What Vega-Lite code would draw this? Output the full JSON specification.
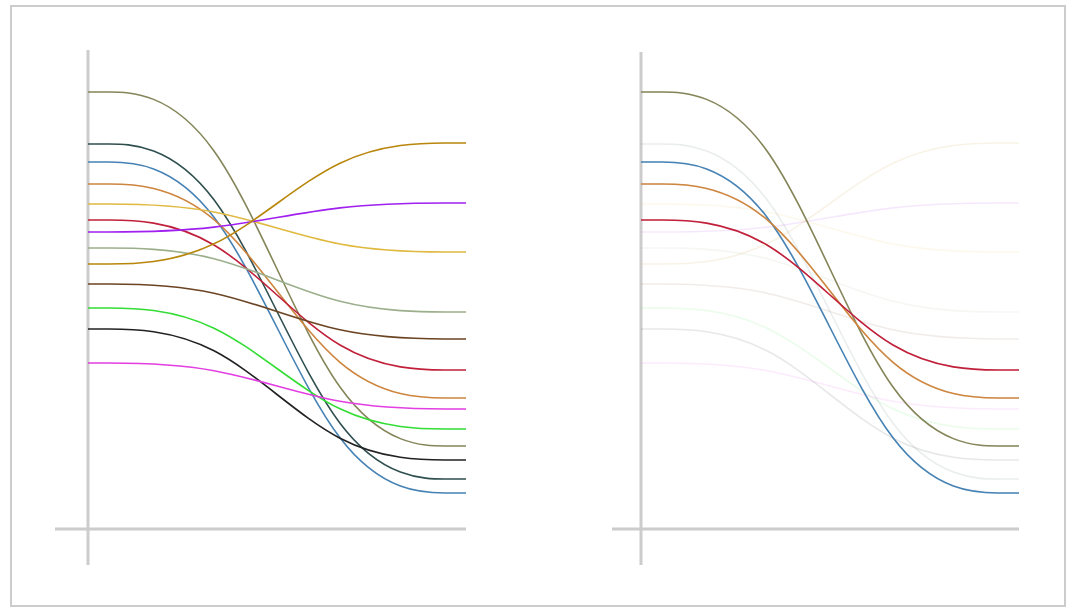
{
  "$schema": "https://vega.github.io/schema/vega-lite/v6.json",
  "autosize": {"type": "none"},
  "width": 1054,
  "height": 600,
  "padding": {"left": 11, "top": 6, "right": 8, "bottom": 5},
  "background": "white",
  "config": {"view": {"stroke": "#cccccc", "strokeWidth": 2}},
  "datasets": {
    "lines": [
      {"series": "A", "start": 87.4, "end": 16.6},
      {"series": "B", "start": 77.0, "end": 10.0},
      {"series": "C", "start": 73.4, "end": 7.2},
      {"series": "D", "start": 69.0, "end": 26.2},
      {"series": "E", "start": 65.0, "end": 55.4},
      {"series": "F", "start": 61.8, "end": 31.8},
      {"series": "G", "start": 59.4, "end": 65.2},
      {"series": "H", "start": 56.2, "end": 43.4},
      {"series": "I", "start": 53.0, "end": 77.2},
      {"series": "J", "start": 49.0, "end": 38.0},
      {"series": "K", "start": 44.2, "end": 20.0},
      {"series": "L", "start": 40.0, "end": 13.8},
      {"series": "M", "start": 33.2, "end": 24.0}
    ]
  },
  "resolve": {"scale": {"x": "independent"}},
  "layer": [
    {
      "layer": [
        {
          "data": {"values": [{}]},
          "mark": {"type": "rule", "color": "#cccccc", "strokeWidth": 3},
          "encoding": {
            "x": {"datum": 1, "type": "quantitative", "scale": {"domain": [0.38889, 8.75397], "nice": false, "zero": false}, "axis": null},
            "y": {"datum": -7.2, "type": "quantitative", "scale": {"domain": [-15.4, 104.6], "nice": false, "zero": false}, "axis": null},
            "y2": {"datum": 95.8}
          }
        },
        {
          "data": {"values": [{}]},
          "mark": {"type": "rule", "color": "#cccccc", "strokeWidth": 3},
          "encoding": {
            "x": {"datum": 0.738, "type": "quantitative", "scale": {"domain": [0.38889, 8.75397], "nice": false, "zero": false}, "axis": null},
            "x2": {"datum": 4},
            "y": {"datum": 0, "type": "quantitative", "scale": {"domain": [-15.4, 104.6], "nice": false, "zero": false}, "axis": null}
          }
        },
        {
          "data": {"name": "lines"},
          "transform": [
            {"fold": ["start", "start", "end", "end"], "as": ["stage", "value"]},
            {"window": [{"op": "row_number", "as": "step"}], "groupby": ["series"], "sort": [{"field": "stage", "order": "descending"}]}
          ],
          "mark": {"type": "line", "interpolate": "basis", "strokeWidth": 1.6},
          "encoding": {
            "x": {"field": "step", "type": "quantitative", "scale": {"domain": [0.38889, 8.75397], "nice": false, "zero": false}, "axis": null},
            "y": {"field": "value", "type": "quantitative", "scale": {"domain": [-15.4, 104.6], "nice": false, "zero": false}, "axis": null},
            "color": {"field": "series", "type": "nominal", "legend": null,
              "scale": {"domain": ["A","B","C","D","E","F","G","H","I","J","K","L","M"],
                        "range": ["#85855a","#2f4f4f","#4682b4","#cd853f","#e0b941","#c0203a","#a020f0","#9caf8c","#b8860b","#6b4423","#33dd33","#222222","#e23ee2"]}}
          }
        }
      ]
    },
    {
      "layer": [
        {
          "data": {"values": [{}]},
          "mark": {"type": "rule", "color": "#cccccc", "strokeWidth": 3},
          "encoding": {
            "x": {"datum": 1, "type": "quantitative", "scale": {"domain": [-4, 4.36508], "nice": false, "zero": false}, "axis": null},
            "y": {"datum": -7.2, "type": "quantitative", "scale": {"domain": [-15.4, 104.6], "nice": false, "zero": false}, "axis": null},
            "y2": {"datum": 95.4}
          }
        },
        {
          "data": {"values": [{}]},
          "mark": {"type": "rule", "color": "#cccccc", "strokeWidth": 3},
          "encoding": {
            "x": {"datum": 0.7698, "type": "quantitative", "scale": {"domain": [-4, 4.36508], "nice": false, "zero": false}, "axis": null},
            "x2": {"datum": 4},
            "y": {"datum": 0, "type": "quantitative", "scale": {"domain": [-15.4, 104.6], "nice": false, "zero": false}, "axis": null}
          }
        },
        {
          "data": {"name": "lines"},
          "transform": [
            {"fold": ["start", "start", "end", "end"], "as": ["stage", "value"]},
            {"window": [{"op": "row_number", "as": "step"}], "groupby": ["series"], "sort": [{"field": "stage", "order": "descending"}]}
          ],
          "mark": {"type": "line", "interpolate": "basis", "strokeWidth": 1.6, "opacity": 0.1},
          "encoding": {
            "x": {"field": "step", "type": "quantitative", "scale": {"domain": [-4, 4.36508], "nice": false, "zero": false}, "axis": null},
            "y": {"field": "value", "type": "quantitative", "scale": {"domain": [-15.4, 104.6], "nice": false, "zero": false}, "axis": null},
            "color": {"field": "series", "type": "nominal", "legend": null}
          }
        },
        {
          "data": {"name": "lines"},
          "transform": [
            {"filter": {"field": "series", "oneOf": ["A", "C", "D", "F"]}},
            {"fold": ["start", "start", "end", "end"], "as": ["stage", "value"]},
            {"window": [{"op": "row_number", "as": "step"}], "groupby": ["series"], "sort": [{"field": "stage", "order": "descending"}]}
          ],
          "mark": {"type": "line", "interpolate": "basis", "strokeWidth": 1.6},
          "encoding": {
            "x": {"field": "step", "type": "quantitative", "scale": {"domain": [-4, 4.36508], "nice": false, "zero": false}, "axis": null},
            "y": {"field": "value", "type": "quantitative", "scale": {"domain": [-15.4, 104.6], "nice": false, "zero": false}, "axis": null},
            "color": {"field": "series", "type": "nominal", "legend": null}
          }
        }
      ]
    }
  ]
}
